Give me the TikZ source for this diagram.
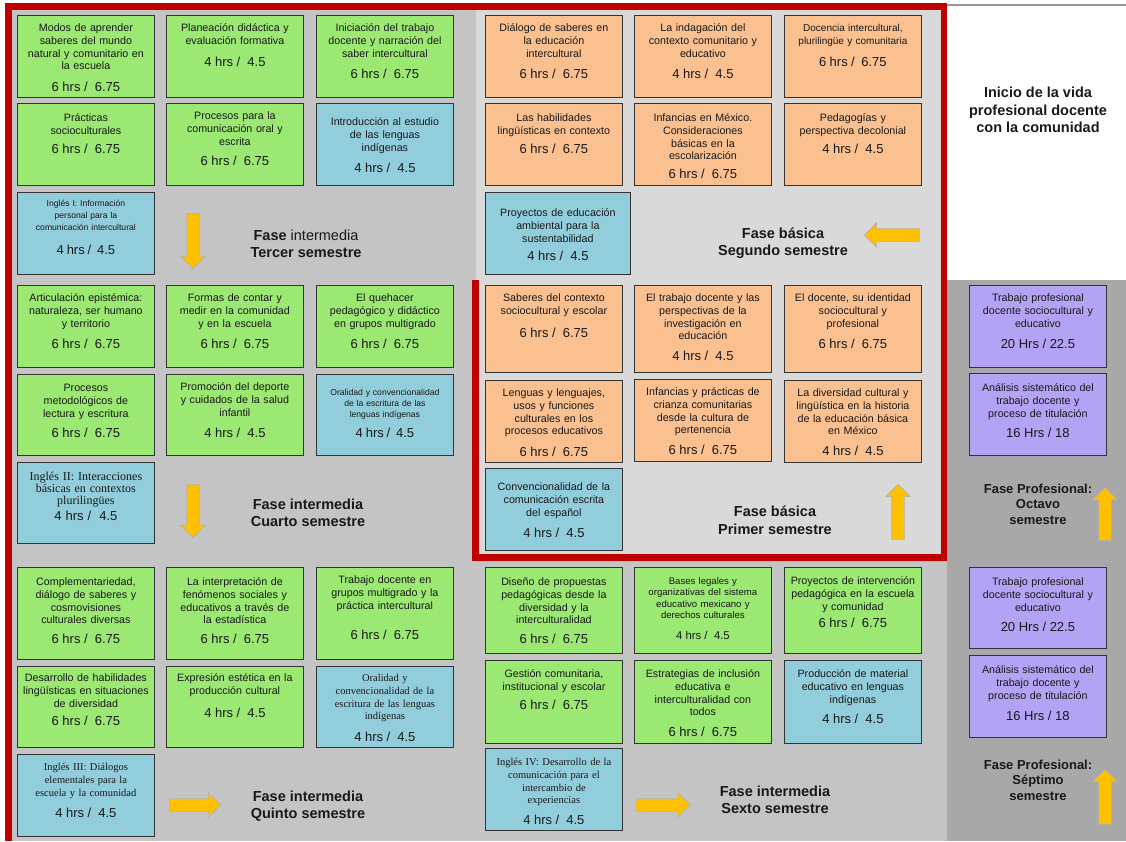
\documentclass[tikz,border=0pt]{standalone}
\usepackage{fontspec}
\setmainfont{Liberation Sans}
\newfontfamily\timesfont{Liberation Serif}
\usetikzlibrary{shapes.arrows}

\definecolor{subjgreen}{RGB}{155,232,115}
\definecolor{subjorange}{RGB}{250,192,144}
\definecolor{subjblue}{RGB}{146,205,220}
\definecolor{subjpurple}{RGB}{180,162,245}
\definecolor{panelgray}{RGB}{196,196,196}
\definecolor{panellight}{RGB}{217,217,217}
\definecolor{paneldark}{RGB}{168,168,168}
\definecolor{framered}{RGB}{192,0,0}
\definecolor{arrowyellow}{RGB}{255,192,0}

\newcommand{\hrs}[2][9pt]{\\[#1]{\rmfamily\fontsize{13}{15}\selectfont #2}}

\begin{document}
\begin{tikzpicture}
  [x=1pt, y=-1pt,
   course/.style={draw=black!80, line width=0.8pt, anchor=north west,
     text width=131pt, align=center, inner sep=3pt, text height=13pt,
     text depth=63pt, font=\fontsize{10.7}{12.8}\selectfont, text=black!90},
   grnbox/.style={course, fill=subjgreen},
   orgbox/.style={course, fill=subjorange},
   bluebox/.style={course, fill=subjblue},
   purbox/.style={course, fill=subjpurple},
   serifbox/.style={font=\timesfont\fontsize{10.5}{12.8}\selectfont},
   phase/.style={align=center, font=\fontsize{14.5}{17.5}\selectfont\bfseries, text=black!90},
   blockarrow/.style={single arrow, fill=arrowyellow, draw=black!30, line width=0.6pt,
     minimum height=55pt, minimum width=24pt, single arrow head extend=6pt,
     inner xsep=0pt, inner ysep=6pt}]
  \useasboundingbox (0,0) rectangle (1126,841);

  % paneles de fondo
  \fill[panelgray] (8,7) rectangle (476,841);
  \fill[panellight] (476,7) rectangle (945,557);
  \fill[panelgray] (476,557) rectangle (947,841);
  \fill[paneldark] (947,280) rectangle (1126,841);
  \draw[black!40, line width=2.5pt] (947,5) -- (1126,5);
  \draw[framered, line width=6.5pt] (8.5,841) -- (8.5,6.5) -- (944,6.5) -- (944,557.5)
    -- (475.5,557.5) -- (475.5,280);

  % tercer semestre
  \node[grnbox] (t1) at (17,15) {Modos de aprender\\saberes del mundo\\natural y comunitario en\\la escuela\hrs{6 hrs /~ 6.75}};
  \node[grnbox] (t2) at (166,15) {Planeación didáctica y\\evaluación formativa\hrs{4 hrs /~ 4.5}};
  \node[grnbox] (t3) at (316,15) {Iniciación del trabajo\\docente y narración del\\saber intercultural\hrs{6 hrs /~ 6.75}};
  \node[grnbox, text height=15pt, text depth=61pt] (t4) at (17,103) {Prácticas\\socioculturales\hrs[6pt]{6 hrs /~ 6.75}};
  \node[grnbox] (t5) at (166,103) {Procesos para la\\comunicación oral y\\escrita\hrs[8pt]{6 hrs /~ 6.75}};
  \node[bluebox, text height=19pt, text depth=57pt] (t6) at (316,103) {Introducción al estudio\\de las lenguas\\indígenas\hrs{4 hrs /~ 4.5}};
  \node[bluebox, font=\fontsize{8.6}{12}\selectfont, text height=11pt, text depth=65pt] (t7) at (17,192) {Inglés I: Información\\personal para la\\comunicación intercultural\hrs[12pt]{4 hrs /~ 4.5}};
  \node[blockarrow, rotate=-90] (a3) at (193,238) {};
  \node[phase] (ph3) at (306,244) {Fase {\mdseries intermedia}\\Tercer semestre};

  % segundo semestre
  \node[orgbox] (s1) at (485,15) {Diálogo de saberes en\\la educación\\intercultural\hrs{6 hrs /~ 6.75}};
  \node[orgbox] (s2) at (634,15) {La indagación del\\contexto comunitario y\\educativo\hrs{4 hrs /~ 4.5}};
  \node[orgbox, font=\fontsize{10}{12.8}\selectfont] (s3) at (784,15) {Docencia intercultural,\\plurilingüe y comunitaria\hrs{6 hrs /~ 6.75}};
  \node[orgbox, text height=15pt, text depth=61pt] (s4) at (485,103) {Las habilidades\\lingüísticas en contexto\hrs[6pt]{6 hrs /~ 6.75}};
  \node[orgbox, text height=15pt, text depth=61pt] (s5) at (634,103) {Infancias en México.\\Consideraciones\\básicas en la\\escolarización\hrs[6pt]{6 hrs /~ 6.75}};
  \node[orgbox, text height=15pt, text depth=61pt] (s6) at (784,103) {Pedagogías y\\perspectiva decolonial\hrs[6pt]{4 hrs /~ 4.5}};
  \node[bluebox, text width=139pt, text height=21pt, text depth=55pt] (s7) at (485,192) {Proyectos de educación\\ambiental para la\\sustentabilidad\hrs[6pt]{4 hrs /~ 4.5}};
  \node[blockarrow, rotate=180] (a2) at (895,235) {};
  \node[phase] (ph2) at (783,243) {Fase básica\\Segundo semestre};

  % inicio
  \node[phase] (inicio) at (1038,110) {Inicio de la vida\\profesional docente\\con la comunidad};

  % cuarto semestre
  \node[grnbox] (c1) at (17,285) {Articulación epistémica:\\naturaleza, ser humano\\y territorio\hrs{6 hrs /~ 6.75}};
  \node[grnbox] (c2) at (166,285) {Formas de contar y\\medir en la comunidad\\y en la escuela\hrs{6 hrs /~ 6.75}};
  \node[grnbox] (c3) at (316,285) {El quehacer\\pedagógico y didáctico\\en grupos multigrado\hrs{6 hrs /~ 6.75}};
  \node[grnbox, text height=14pt, text depth=61pt] (c4) at (17,374) {Procesos\\metodológicos de\\lectura y escritura\hrs[8pt]{6 hrs /~ 6.75}};
  \node[grnbox, text depth=62pt] (c5) at (166,374) {Promoción del deporte\\y cuidados de la salud\\infantil\hrs{4 hrs /~ 4.5}};
  \node[bluebox, font=\fontsize{8.6}{10.8}\selectfont, text height=18pt, text depth=57pt] (c6) at (316,374) {Oralidad y convencionalidad\\de la escritura de las\\lenguas indígenas\hrs[8pt]{4 hrs /~ 4.5}};
  \node[bluebox, font=\timesfont\fontsize{12}{12.2}\selectfont, text height=15pt, text depth=60pt] (c7) at (17,462) {Inglés II: Interacciones\\básicas en contextos\\plurilingües\hrs[3pt]{4 hrs /~ 4.5}};
  \node[blockarrow, rotate=-90, minimum height=53pt] (a4) at (193,508) {};
  \node[phase] (ph4) at (308,513) {Fase intermedia\\Cuarto semestre};

  % primer semestre
  \node[orgbox, text depth=68pt] (p1) at (485,285) {Saberes del contexto\\sociocultural y escolar\hrs[10pt]{6 hrs /~ 6.75}};
  \node[orgbox, text depth=68pt] (p2) at (634,285) {El trabajo docente y las\\perspectivas de la\\investigación en\\educación\hrs[8pt]{4 hrs /~ 4.5}};
  \node[orgbox, text depth=68pt] (p3) at (784,285) {El docente, su identidad\\sociocultural y\\profesional\hrs{6 hrs /~ 6.75}};
  \node[orgbox] (p4) at (485,380) {Lenguas y lenguajes,\\usos y funciones\\culturales en los\\procesos educativos\hrs{6 hrs /~ 6.75}};
  \node[orgbox] (p5) at (634,379) {Infancias y prácticas de\\crianza comunitarias\\desde la cultura de\\pertenencia\hrs[8pt]{6 hrs /~ 6.75}};
  \node[orgbox] (p6) at (784,380) {La diversidad cultural y\\lingüística en la historia\\de la educación básica\\en México\hrs[8pt]{4 hrs /~ 4.5}};
  \node[bluebox, text height=19pt, text depth=57pt] (p7) at (485,468) {Convencionalidad de la\\comunicación escrita\\del español\hrs{4 hrs /~ 4.5}};
  \node[blockarrow, rotate=90] (a1) at (898,515) {};
  \node[phase] (ph1) at (775,520) {Fase básica\\Primer semestre};

  % octavo semestre
  \node[purbox] (o1) at (969,285) {Trabajo profesional\\docente sociocultural y\\educativo\hrs{20 Hrs / 22.5}};
  \node[purbox, text height=15pt, text depth=61pt] (o2) at (969,373) {Análisis sistemático del\\trabajo docente y\\proceso de titulación\hrs[8pt]{16 Hrs / 18}};
  \node[blockarrow, rotate=90, minimum height=53pt] (a8) at (1105,517) {};
  \node[phase, font=\fontsize{13}{15.5}\selectfont\bfseries] (ph8) at (1038,504) {Fase Profesional:\\Octavo\\semestre};

  % quinto semestre
  \node[grnbox, text height=15pt, text depth=71pt] (q1) at (17,567) {Complementariedad,\\diálogo de saberes y\\cosmovisiones\\culturales diversas\hrs[7pt]{6 hrs /~ 6.75}};
  \node[grnbox, text height=15pt, text depth=71pt] (q2) at (166,567) {La interpretación de\\fenómenos sociales y\\educativos a través de\\la estadística\hrs[7pt]{6 hrs /~ 6.75}};
  \node[grnbox, text depth=73pt] (q3) at (316,567) {Trabajo docente en\\grupos multigrado y la\\práctica intercultural\hrs[18pt]{6 hrs /~ 6.75}};
  \node[grnbox, text height=12pt, text depth=63pt] (q4) at (17,666) {Desarrollo de habilidades\\lingüísticas en situaciones\\de diversidad\hrs[6pt]{6 hrs /~ 6.75}};
  \node[grnbox, text height=12pt, text depth=63pt] (q5) at (166,666) {Expresión estética en la\\producción cultural\hrs[10pt]{4 hrs /~ 4.5}};
  \node[bluebox, serifbox, text height=12pt, text depth=63pt] (q6) at (316,666) {Oralidad y\\convencionalidad de la\\escritura de las lenguas\\indígenas\hrs{4 hrs /~ 4.5}};
  \node[bluebox, serifbox] (q7) at (17,754) {Inglés III: Diálogos\\elementales para la\\escuela y la comunidad\hrs{4 hrs /~ 4.5}};
  \node[blockarrow, minimum height=51pt] (a5) at (192,805) {};
  \node[phase] (ph5) at (308,806) {Fase intermedia\\Quinto semestre};

  % sexto semestre
  \node[grnbox, text height=15pt, text depth=65pt] (x1) at (485,567) {Diseño de propuestas\\pedagógicas desde la\\diversidad y la\\interculturalidad\hrs[7pt]{6 hrs /~ 6.75}};
  \node[grnbox, font=\fontsize{9.6}{11.5}\selectfont, text height=14pt, text depth=66pt] (x2) at (634,567) {Bases legales y\\organizativas del sistema\\educativo mexicano y\\derechos culturales\\[9pt]{\fontsize{11.3}{13}\selectfont 4 hrs /~ 4.5}};
  \node[grnbox, text height=14pt, text depth=66pt] (x3) at (784,567) {Proyectos de intervención\\pedagógica en la escuela\\y comunidad\hrs[5pt]{6 hrs /~ 6.75}};
  \node[grnbox, text height=14pt, text depth=63pt] (x4) at (485,660) {Gestión comunitaria,\\institucional y escolar\hrs[6pt]{6 hrs /~ 6.75}};
  \node[grnbox, text height=14pt, text depth=63pt] (x5) at (634,660) {Estrategias de inclusión\\educativa e\\interculturalidad con\\todos\hrs[8pt]{6 hrs /~ 6.75}};
  \node[bluebox, text height=14pt, text depth=63pt] (x6) at (784,660) {Producción de material\\educativo en lenguas\\indígenas\hrs[8pt]{4 hrs /~ 4.5}};
  \node[bluebox, serifbox, text height=14pt, text depth=62pt] (x7) at (485,748) {Inglés IV: Desarrollo de la\\comunicación para el\\intercambio de\\experiencias\hrs[8pt]{4 hrs /~ 4.5}};
  \node[blockarrow, minimum height=54pt] (a6) at (660,805) {};
  \node[phase] (ph6) at (775,800) {Fase intermedia\\Sexto semestre};

  % septimo semestre
  \node[purbox, text height=15pt, text depth=60pt] (v1) at (969,567) {Trabajo profesional\\docente sociocultural y\\educativo\hrs[8pt]{20 Hrs / 22.5}};
  \node[purbox, text height=15pt, text depth=61pt] (v2) at (969,655) {Análisis sistemático del\\trabajo docente y\\proceso de titulación\hrs{16 Hrs / 18}};
  \node[blockarrow, rotate=90] (a7) at (1105,800) {};
  \node[phase, font=\fontsize{13}{15.5}\selectfont\bfseries] (ph7) at (1038,780) {Fase Profesional:\\Séptimo\\semestre};
\end{tikzpicture}
\end{document}
